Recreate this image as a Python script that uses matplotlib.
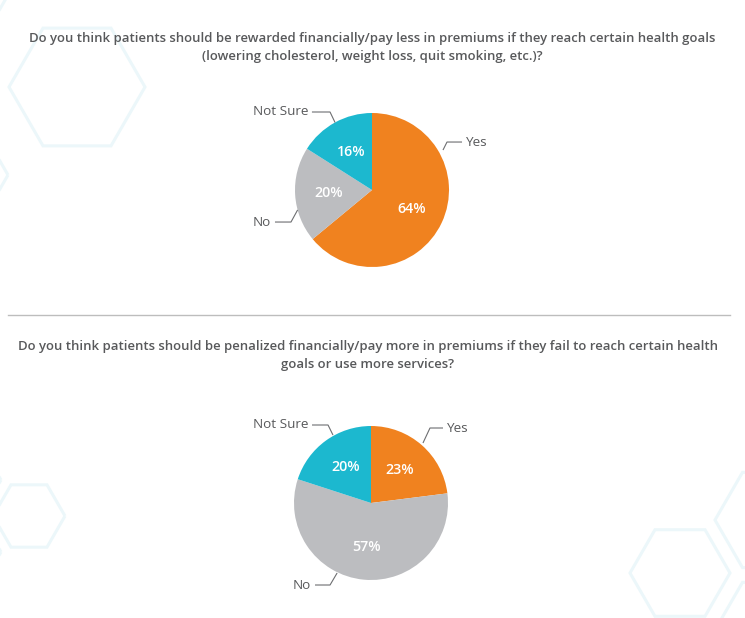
import matplotlib
matplotlib.use("Agg")
import matplotlib.pyplot as plt
import numpy as np
from matplotlib.patches import Polygon

# ---- data ----
categories = ["Yes", "No", "Not Sure"]
reward_values = [64, 20, 16]
penalty_values = [23, 57, 20]
title_reward = ("Do you think patients should be rewarded financially/pay less in premiums if they reach certain health goals\n"
                "(lowering cholesterol, weight loss, quit smoking, etc.)?")
title_penalty = ("Do you think patients should be penalized financially/pay more in premiums if they fail to reach certain health\n"
                 "goals or use more services?")

colors = ["#F0821F", "#BCBDC0", "#1CB8CF"]
text_color = "#58595B"
line_color = "#6D6E71"
hex_color = "#ECF7FA"
FONT = "Open Sans"

W, H = 745, 618
fig = plt.figure(figsize=(W / 100, H / 100), dpi=100)
fig.patch.set_facecolor("white")

# background decoration (faint hexagons), in pixel coordinates
bg = fig.add_axes([0, 0, 1, 1])
bg.set_xlim(0, W)
bg.set_ylim(H, 0)
bg.axis("off")
def hexagon(cx, cy, r):
    ang = np.deg2rad(np.arange(0, 360, 60))
    return np.column_stack([cx + r * np.cos(ang), cy + r * np.sin(ang)])
for cx, cy, r in [(77, 87, 68), (-60, -5, 68), (-60, 175, 68),
                  (29, 516, 36), (-35, 480, 36), (-35, 552, 36),
                  (680, 573, 50), (770, 520, 55), (770, 630, 55)]:
    bg.add_patch(Polygon(hexagon(cx, cy, r), closed=True, fill=False,
                         edgecolor=hex_color, lw=2.2))
bg.plot([8, 730], [315, 315], color="#BDBDBD", lw=1.0)

# titles
bg.text(372, 47.5, title_reward, ha="center", va="center", fontsize=9.45,
        fontfamily=FONT, fontweight="semibold", color=text_color, linespacing=1.55)
bg.text(368, 355.5, title_penalty, ha="center", va="center", fontsize=9.45,
        fontfamily=FONT, fontweight="semibold", color=text_color, linespacing=1.55)

R = 77.0  # pie radius in px

def pie_axes(cx, cy):
    aw, ah = 320, 220
    ax = fig.add_axes([(cx - aw / 2) / W, (H - cy - ah / 2) / H, aw / W, ah / H])
    return ax, aw / 2 / R, ah / 2 / R

def draw_pie(cx, cy, values, leaders):
    ax, hx, hy = pie_axes(cx, cy)
    wedges, texts, autotexts = ax.pie(
        values, colors=colors, startangle=90, counterclock=False,
        autopct=lambda p: f"{p:.0f}%", pctdistance=0.57,
        wedgeprops=dict(linewidth=0),
        textprops=dict(color="white", fontsize=10.3, fontfamily=FONT, fontweight="semibold"))
    ax.set_xlim(-hx, hx)
    ax.set_ylim(-hy, hy)
    ax.set_aspect("equal")
    ax.axis("off")
    for label, (edge, kink, end) in zip(categories, leaders):
        ax.plot([edge[0], kink[0], end[0]], [edge[1], kink[1], end[1]],
                color=line_color, lw=0.8, solid_capstyle="butt")
        side = 1 if end[0] > 0 else -1
        ax.text(end[0] + side * 0.05, end[1], label, ha="left" if side > 0 else "right",
                va="center", fontsize=9.7, fontfamily=FONT, fontweight="medium",
                color=text_color)

# leader geometry (edge point, bend point, end point) in pie-radius units
top_leaders = [((0.922, 0.519), (0.974, 0.623), (1.169, 0.623)),
               ((-0.966, -0.259), (-1.052, -0.416), (-1.26, -0.416)),
               ((-0.48, 0.877), (-0.545, 1.013), (-0.78, 1.013))]
bottom_leaders = [((0.675, 0.779), (0.766, 0.974), (0.935, 0.974)),
                  ((-0.44, -0.909), (-0.532, -1.065), (-0.727, -1.065)),
                  ((-0.494, 0.883), (-0.558, 1.013), (-0.766, 1.013))]

draw_pie(372, 190, reward_values, top_leaders)
draw_pie(371, 503, penalty_values, bottom_leaders)

fig.savefig("out.png", dpi=100, facecolor="white")
